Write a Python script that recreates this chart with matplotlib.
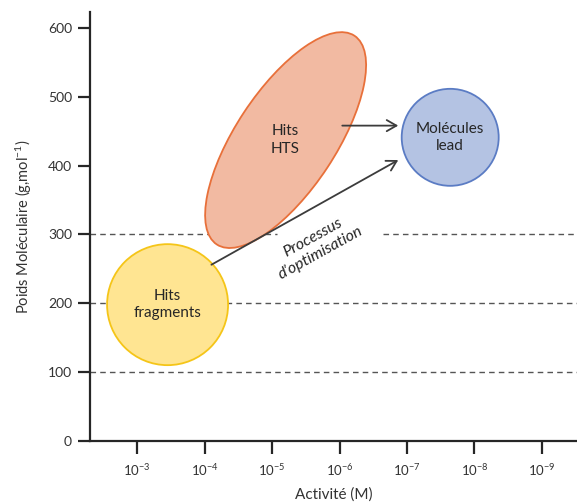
import matplotlib
matplotlib.use("Agg")
import matplotlib.pyplot as plt
import matplotlib.transforms as mtransforms
from matplotlib.patches import Ellipse

plt.rcParams['font.family'] = ['Lato', 'DejaVu Sans']
plt.rcParams['mathtext.fontset'] = 'custom'
plt.rcParams['mathtext.rm'] = 'Lato'
plt.rcParams['mathtext.it'] = 'Lato:italic'

# ---- data ----
tick_exponents = [3, 4, 5, 6, 7, 8, 9]          # activity = 10^-p  (M)
tick_labels = [r"$\mathregular{10^{-%d}}$" % p for p in tick_exponents]
ytick_values = [0, 100, 200, 300, 400, 500, 600]
threshold_mw = [100, 200, 300]

bubble_names = ["Hits\nfragments", "Hits\nHTS", "Molécules\nlead"]
bubble_pact = [3.45, 5.20, 7.64]      # -log10(activity)
bubble_mw = [198, 437, 441]           # molecular weight

# ---- styles ----
bubble_w_px = [121, 250, 97]
bubble_h_px = [121, 100, 97]
bubble_angle = [0, 56.6, 0]
bubble_face = ["#FFE592", "#F2BAA2", "#B4C3E3"]
bubble_edge = ["#F5C518", "#E8703A", "#5B7CC4"]
XLIM = (2.30, 9.52)
LABEL_GAP = (5.07, 6.64)   # where the dashed 300 line is interrupted by the label

W, H, DPI = 577, 504, 100
fig = plt.figure(figsize=(W / DPI, H / DPI), dpi=DPI)
ax = fig.add_axes([90 / W, 63 / H, 1 - 90 / W, (441 - 12) / H])
ax.set_xlim(*XLIM)
ax.set_ylim(0, 623)

for s in ["top", "right"]:
    ax.spines[s].set_visible(False)
for s in ["left", "bottom"]:
    ax.spines[s].set_linewidth(1.6)
    ax.spines[s].set_color("#262626")

ax.set_xticks(tick_exponents)
ax.set_xticklabels(tick_labels, fontsize=9.5, color="#333333")
ax.set_yticks(ytick_values)
ax.set_yticklabels([str(v) for v in ytick_values], fontsize=10, color="#333333")
ax.tick_params(axis="both", length=9, width=1.6, color="#262626", pad=4)
ax.tick_params(axis="x", pad=6)

ax.set_xlabel("Activité (M)", fontsize=11, color="#333333", labelpad=7)
ax.set_ylabel(r"Poids Moléculaire (g,mol$^{\mathregular{-1}}$)", fontsize=10.5,
              color="#333333", labelpad=10)

dash = dict(color="#555555", lw=1.0, ls=(0, (4, 3)), zorder=0.5)
for yv in threshold_mw:
    if yv == max(threshold_mw):
        ax.hlines(yv, XLIM[0], LABEL_GAP[0], **dash)
        ax.hlines(yv, LABEL_GAP[1], XLIM[1], **dash)
    else:
        ax.axhline(yv, **dash)

# bubbles drawn in pixel-size around data centres
for name, px, mw, w, h, ang, fc, ec in zip(bubble_names, bubble_pact, bubble_mw,
                                          bubble_w_px, bubble_h_px, bubble_angle,
                                          bubble_face, bubble_edge):
    tr = fig.dpi_scale_trans + mtransforms.ScaledTranslation(px, mw, ax.transData)
    e = Ellipse((0, 0), w / DPI, h / DPI, angle=ang, transform=tr,
                facecolor=fc, edgecolor=ec, lw=1.3, zorder=3)
    ax.add_patch(e)
    ax.text(px, mw, name, ha="center", va="center", fontsize=11,
            color="#262626", zorder=5, linespacing=1.3)

# arrows
arrow_kw = dict(arrowstyle="->,head_length=0.7,head_width=0.4", color="#3C3C3C", lw=1.3)
# HTS -> lead
ax.annotate("", xy=(6.87, 458), xytext=(6.04, 458),
            arrowprops=dict(**arrow_kw, shrinkA=0, shrinkB=0), zorder=4)
# fragments -> lead
ax.annotate("", xy=(6.87, 408), xytext=(4.10, 256),
            arrowprops=dict(**arrow_kw, shrinkA=0, shrinkB=0), zorder=4)

ax.text(5.66, 284, "Processus\nd\u2019optimisation", rotation=29, style="italic",
        fontsize=11.5, color="#262626", ha="center", va="center",
        rotation_mode="anchor", linespacing=1.2, zorder=2)

fig.savefig("out.png", dpi=DPI)
